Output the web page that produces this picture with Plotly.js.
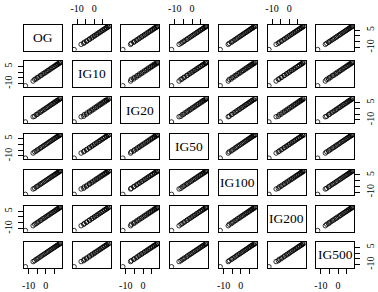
<!DOCTYPE html>
<html>
<head>
<meta charset="utf-8">
<script src="https://cdn.plot.ly/plotly-3.0.1.min.js"></script>
<style>html,body{margin:0;padding:0;background:#fff;}#plot{width:378px;height:292px;}</style>
</head>
<body>
<div id="plot"></div>
<script>
var labels = ["OG","IG10","IG20","IG50","IG100","IG200","IG500"];
var OG    = [-11.9,-7.4,-6.5,-5.6,-4.9,-4.1,-3.2,-2.6,-1.8,-1.1,-0.4,0.3,1.0,1.6,2.3,2.9,3.5,4.1,4.7,5.2,5.8,6.3,6.8,7.2,7.6,8.0,8.3,8.6];
var IG10  = [-11.8,-7.7,-6.2,-5.9,-4.6,-4.3,-2.9,-2.8,-1.5,-1.3,-0.1,0.1,1.3,1.4,2.6,2.7,3.8,3.9,5.0,5.0,6.1,6.1,7.1,7.0,7.9,7.8,8.5,8.7];
var IG20  = [-11.7,-7.2,-6.8,-5.4,-5.1,-3.9,-3.4,-2.4,-2.0,-0.9,-0.6,0.5,0.8,1.8,2.1,3.1,3.3,4.3,4.5,5.4,5.6,6.5,6.6,7.4,7.5,8.2,8.1,8.6];
var IG50  = [-11.9,-7.5,-6.4,-5.7,-4.8,-4.2,-3.1,-2.7,-1.7,-1.2,-0.3,0.2,1.1,1.5,2.4,2.8,3.6,4.0,4.8,5.1,5.9,6.2,6.9,7.1,7.7,7.9,8.2,8.5];
var IG100 = [-12.0,-7.3,-6.7,-5.5,-5.0,-4.0,-3.3,-2.5,-1.9,-1.0,-0.5,0.4,0.9,1.7,2.2,3.0,3.4,4.2,4.6,5.3,5.7,6.4,6.7,7.3,7.5,8.1,8.4,8.6];
var IG200 = [-11.8,-7.6,-6.3,-5.8,-4.7,-4.2,-3.0,-2.7,-1.6,-1.2,-0.2,0.2,1.2,1.5,2.5,2.8,3.7,4.0,4.9,5.1,6.0,6.2,7.0,7.1,7.8,7.9,8.4,8.7];
var IG500 = [-11.9,-7.4,-6.6,-5.5,-5.0,-4.1,-3.3,-2.5,-1.8,-1.0,-0.5,0.4,1.0,1.6,2.3,2.9,3.5,4.1,4.7,5.2,5.8,6.3,6.8,7.2,7.6,8.0,8.3,8.6];
var tickVals = [-10,-5,0,5];
var xTickText = ["-10","","0",""];
var yTickText = ["-10","","","5"];

var vars = [OG,IG10,IG20,IG50,IG100,IG200,IG500];
var W = 378, H = 292, n = 7;
var left0 = 24, colStep = 48.7, pw = 38;
var top0 = 25, rowStep = 36.2, ph = 25.5;
var font = "Liberation Serif";

function rng(a){
  var mn = Math.min.apply(null,a), mx = Math.max.apply(null,a), d = mx-mn;
  return [mn-0.04*d, mx+0.04*d];
}

var data = [], layout = {
  width: W, height: H, margin:{l:0,r:0,t:0,b:0},
  paper_bgcolor:"#fff", plot_bgcolor:"#fff", showlegend:false,
  font:{family:font, color:"#000"}, annotations:[]
};

for (var i=0;i<n;i++){
  for (var j=0;j<n;j++){
    var k = i*n+j+1;
    var xa = k===1 ? "x" : "x"+k, ya = k===1 ? "y" : "y"+k;
    var x0 = left0 + j*colStep, y0 = top0 + i*rowStep;
    var xaxis = {
      domain:[x0/W,(x0+pw)/W], anchor:ya, range:rng(vars[j]),
      showline:true, mirror:true, linecolor:"#000", linewidth:1,
      showgrid:false, zeroline:false, ticks:"", showticklabels:false,
      tickvals:tickVals, ticktext:xTickText, fixedrange:true
    };
    var yaxis = {
      domain:[1-(y0+ph)/H,1-y0/H], anchor:xa, range:rng(vars[i]),
      showline:true, mirror:true, linecolor:"#000", linewidth:1,
      showgrid:false, zeroline:false, ticks:"", showticklabels:false,
      tickvals:tickVals, ticktext:yTickText, fixedrange:true
    };
    var xAxisShown = (i===0 && (j+1)%2===0) || (i===n-1 && (j+1)%2===1);
    if (xAxisShown){
      xaxis.side = (i===0) ? "top" : "bottom";
      xaxis.ticks = "outside"; xaxis.ticklen = 5; xaxis.tickcolor="#000"; xaxis.tickwidth=1;
      xaxis.showticklabels = true; xaxis.tickfont = {family:font,size:10,color:"#000"};
      xaxis.ticklabelstandoff = 3;
    }
    var yAxisShown = (j===0 && (i+1)%2===0) || (j===n-1 && (i+1)%2===1);
    if (yAxisShown){
      yaxis.side = (j===0) ? "left" : "right";
      yaxis.ticks = "outside"; yaxis.ticklen = 5; yaxis.tickcolor="#000"; yaxis.tickwidth=1;
      yaxis.showticklabels = true; yaxis.tickangle = -90;
      yaxis.tickfont = {family:font,size:10,color:"#000"};
      yaxis.ticklabelstandoff = 2;
    }
    layout[k===1?"xaxis":"xaxis"+k] = xaxis;
    layout[k===1?"yaxis":"yaxis"+k] = yaxis;
    if (i===j){
      data.push({type:"scatter", mode:"markers", x:[], y:[], xaxis:xa, yaxis:ya, hoverinfo:"skip"});
      layout.annotations.push({
        text:labels[i], xref:"paper", yref:"paper",
        x:(x0+pw/2)/W, y:1-(y0+ph/2)/H, xanchor:"center", yanchor:"middle",
        showarrow:false, font:{family:font,size:13.5,color:"#000"}
      });
    } else {
      data.push({
        type:"scatter", mode:"markers", x:vars[j], y:vars[i], xaxis:xa, yaxis:ya,
        marker:{symbol:"circle-open", size:4.5, color:"#000", line:{width:0.8,color:"#000"}},
        hoverinfo:"skip"
      });
    }
  }
}

Plotly.newPlot("plot", data, layout, {staticPlot:true, displayModeBar:false});
</script>
</body>
</html>
